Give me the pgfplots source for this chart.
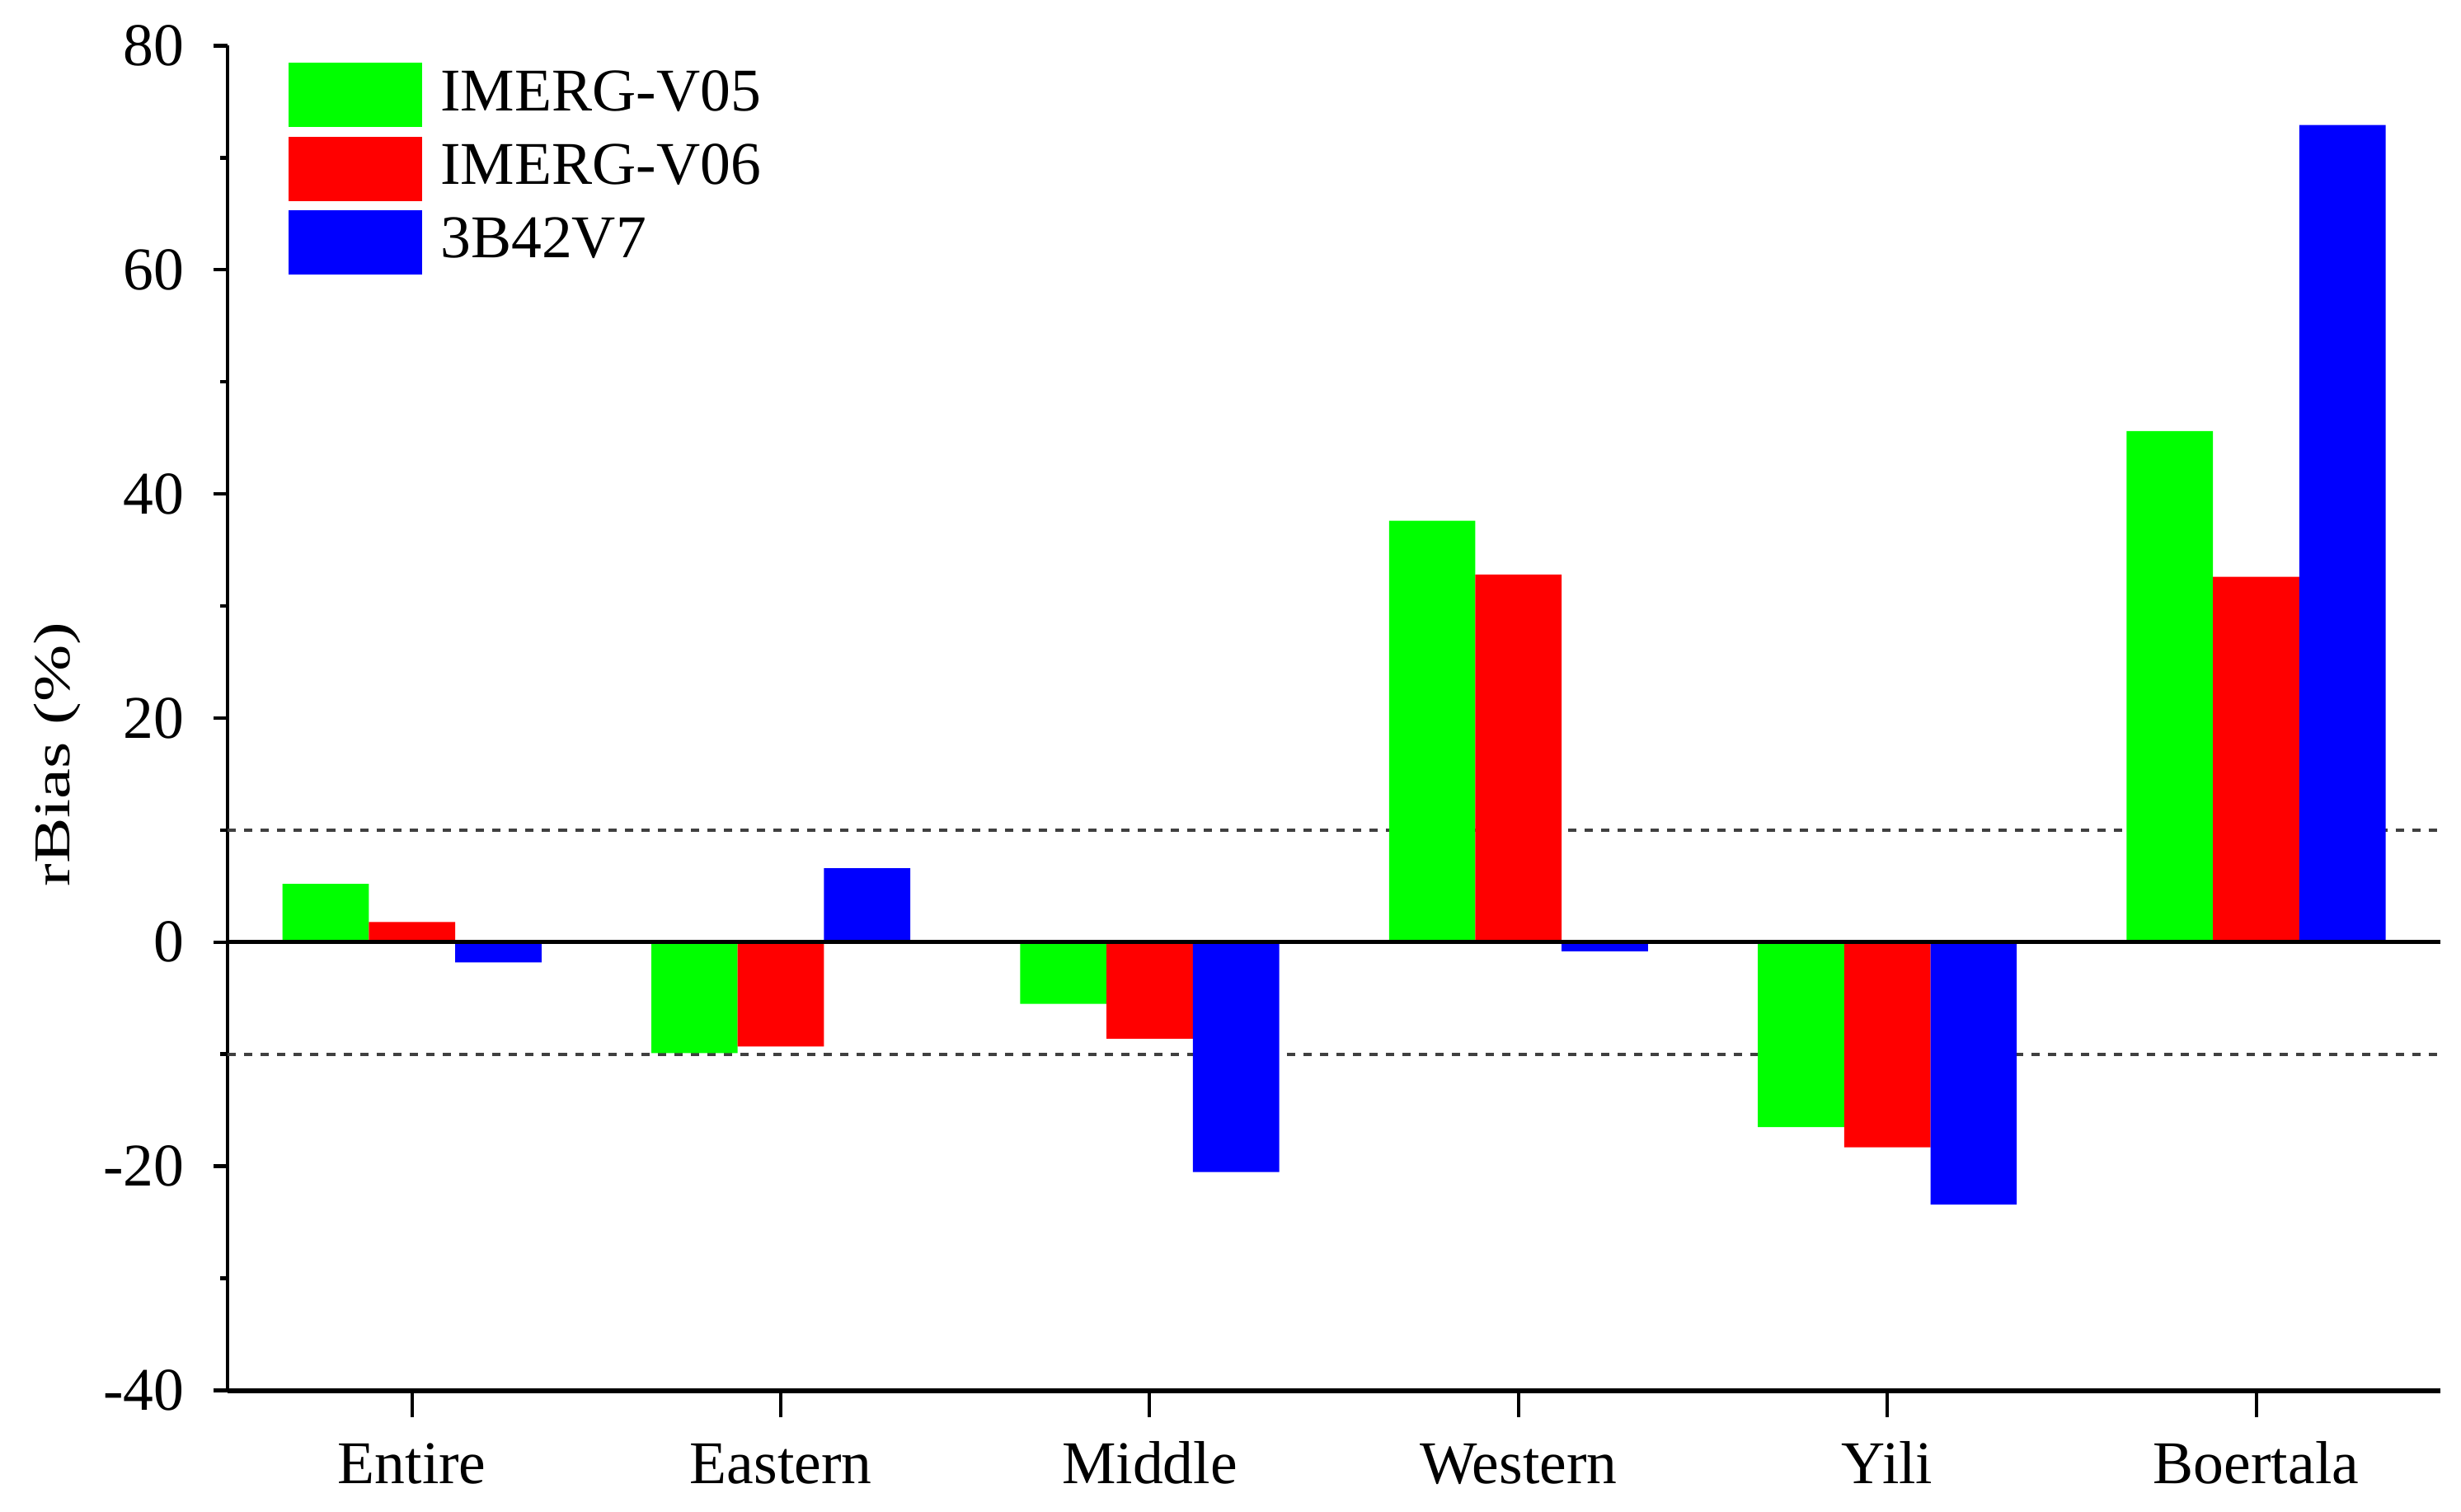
\documentclass[border=0pt]{standalone}
\usepackage{fontspec}
\setmainfont{Liberation Serif}
\usepackage{pgfplots}
\pgfplotsset{compat=1.18}
\definecolor{cg}{RGB}{0,255,0}
\definecolor{cr}{RGB}{255,0,0}
\definecolor{cb}{RGB}{0,0,255}
\pgfplotsset{mylegend/.style={legend image code/.code={\fill[##1] (0mm,-2.05mm) rectangle (8.5mm,2.05mm);}}}
\begin{document}
\fontsize{11}{13}\selectfont
\begin{tikzpicture}
\path[use as bounding box] (-14.5mm,-7.7mm) rectangle (142.3mm,88.6mm);
\begin{axis}[
  at={(0,0)}, anchor=south west,
  scale only axis, width=141mm, height=85.7mm,
  font=\fontsize{11}{13}\selectfont,
  xmin=-0.5, xmax=5.5, ymin=-40, ymax=80,
  axis lines*=left,
  x axis line style={line width=0.9pt, -},
  y axis line style={line width=0.6pt, -},
  xtick={0,1,2,3,4,5},
  xticklabels={Entire,Eastern,Middle,Western,Yili,Boertala},
  ytick={-40,-20,0,20,40,60,80},
  yticklabels={-40,-20,0,20,40,60,80},
  minor y tick num=1,
  tick align=outside,
  major tick length=0.9mm, minor tick length=0.45mm,
  xtick style={/pgfplots/major tick length=1.7mm, line width=0.6pt, black},
  ytick style={line width=0.7pt, black},
  yticklabel style={anchor=east, inner sep=0pt, xshift=-1.8mm},
  xticklabel style={anchor=base, inner sep=0pt, yshift=-5.0mm},
  ylabel={rBias (\%)},
  ylabel style={at={(axis description cs:-0.077,0.473)}, anchor=center, xscale=1.13, yscale=0.85},
  legend cell align=left,
  legend style={draw=none, fill=none, at={(axis description cs:0.027,0.988)}, anchor=north west,
    inner sep=0pt, row sep=0.6mm, nodes={inner xsep=1.2mm, inner ysep=0pt},
    font=\fontsize{11}{13}\selectfont},
]
\addplot[forget plot, sharp plot, black!75, line width=0.55pt, dash pattern=on 1.5pt off 1.5pt] coordinates {(-0.5,10) (5.5,10)};
\addplot[forget plot, sharp plot, black!75, line width=0.55pt, dash pattern=on 1.5pt off 1.5pt] coordinates {(-0.5,-10) (5.5,-10)};
\addplot[ybar, bar width=5.5mm, bar shift=-5.5mm, fill=cg, draw=none, mylegend]
  coordinates {(0,5.2) (1,-9.9) (2,-5.5) (3,37.6) (4,-16.5) (5,45.6)};
\addplot[ybar, bar width=5.5mm, bar shift=0mm, fill=cr, draw=none, mylegend]
  coordinates {(0,1.8) (1,-9.3) (2,-8.6) (3,32.8) (4,-18.3) (5,32.6)};
\addplot[ybar, bar width=5.5mm, bar shift=5.5mm, fill=cb, draw=none, mylegend]
  coordinates {(0,-1.8) (1,6.6) (2,-20.5) (3,-0.8) (4,-23.4) (5,72.9)};
\addplot[forget plot, sharp plot, black, line width=0.75pt] coordinates {(-0.5,0) (5.5,0)};
\legend{IMERG-V05,IMERG-V06,3B42V7}
\end{axis}
\end{tikzpicture}
\end{document}
